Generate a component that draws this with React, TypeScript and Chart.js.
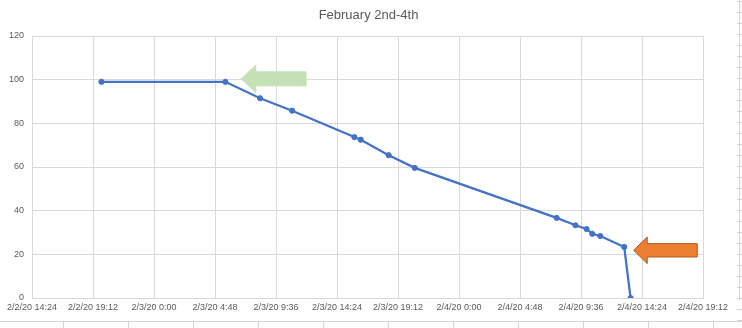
import React, { useEffect, useRef } from "react";
import { Chart, registerables } from "chart.js";

Chart.register(...registerables);

// ---- data ----
const TITLE = "February 2nd-4th";
const times = [
  "2/2/20 19:52",
  "2/3/20 5:37",
  "2/3/20 8:21",
  "2/3/20 10:52",
  "2/3/20 15:46",
  "2/3/20 16:16",
  "2/3/20 18:28",
  "2/3/20 20:31",
  "2/4/20 7:41",
  "2/4/20 9:10",
  "2/4/20 10:02",
  "2/4/20 10:29",
  "2/4/20 11:07",
  "2/4/20 13:00",
  "2/4/20 13:30",
];
const values = [99, 99, 91.5, 85.8, 73.7, 72.5, 65.4, 59.6, 36.7, 33.3, 31.6, 29.4, 28.4, 23.4, 0];
const xAxisStart = "2/2/20 14:24";
const xAxisEnd = "2/4/20 19:12";
const xAxisStepMinutes = 288; // 4:48
const yTicks = [0, 20, 40, 60, 80, 100, 120];

// annotation arrows anchored to data points (index into series)
const arrows = [
  { index: 1, dx: 15.7, dy: -3, head: 14.7, headHalf: 13.6, bodyHalf: 7, length: 65, fill: "#C5E0B4", stroke: "#C5E0B4" },
  { index: 13, dx: 9.4, dy: 3.4, head: 13.6, headHalf: 13.3, bodyHalf: 6.7, length: 63.6, fill: "#ED7D31", stroke: "#AE5A21" },
];

// minutes since 2/2/20 0:00
function toMinutes(s: string): number {
  const [date, time] = s.split(" ");
  const [, d] = date.split("/").map(Number);
  const [h, mm] = time.split(":").map(Number);
  return (d - 2) * 1440 + h * 60 + mm;
}
function fmt(v: number): string {
  const total = Math.round(v);
  const day = 2 + Math.floor(total / 1440);
  const rem = total % 1440;
  const h = Math.floor(rem / 60);
  const mm = rem % 60;
  return `2/${day}/20 ${h}:${mm < 10 ? "0" + mm : mm}`;
}

const FONT = "'Liberation Sans', Arial, sans-serif";
const GRID = "#D9D9D9";
const TEXT = "#595959";
const SHEET = "#D4D4D4";

const arrowPlugin = {
  id: "arrowsPlugin",
  afterDatasetsDraw(chart: any) {
    const meta = chart.getDatasetMeta(0);
    const ctx = chart.ctx;
    arrows.forEach((a) => {
      const pt = meta.data[a.index];
      if (!pt) return;
      const x = pt.x + a.dx;
      const y = pt.y + a.dy;
      ctx.save();
      ctx.beginPath();
      ctx.moveTo(x, y);
      ctx.lineTo(x + a.head, y - a.headHalf);
      ctx.lineTo(x + a.head, y - a.bodyHalf);
      ctx.lineTo(x + a.length, y - a.bodyHalf);
      ctx.lineTo(x + a.length, y + a.bodyHalf);
      ctx.lineTo(x + a.head, y + a.bodyHalf);
      ctx.lineTo(x + a.head, y + a.headHalf);
      ctx.closePath();
      ctx.fillStyle = a.fill;
      ctx.fill();
      ctx.lineWidth = 1;
      ctx.strokeStyle = a.stroke;
      ctx.stroke();
      ctx.restore();
    });
  },
};

export default function App() {
  const ref = useRef<HTMLCanvasElement | null>(null);

  useEffect(() => {
    document.body.style.margin = "0";
    const canvas = ref.current;
    if (!canvas) return;
    const xMin = toMinutes(xAxisStart);
    const xMax = toMinutes(xAxisEnd);
    const points = times.map((t, i) => ({ x: toMinutes(t), y: values[i] }));

    const chart = new Chart(canvas, {
      type: "line",
      data: {
        datasets: [
          {
            data: points,
            borderColor: "#4472C4",
            backgroundColor: "#4472C4",
            borderWidth: 2.25,
            pointRadius: 2.6,
            pointBackgroundColor: "#4472C4",
            pointBorderColor: "#4472C4",
            pointBorderWidth: 1,
            tension: 0,
            fill: false,
            yAxisID: "y",
          },
        ],
      },
      options: {
        animation: false,
        responsive: false,
        maintainAspectRatio: false,
        devicePixelRatio: 1,
        layout: { padding: { left: 0, right: 0, top: 0, bottom: 0 } },
        plugins: {
          legend: { display: false },
          tooltip: { enabled: false },
          title: {
            display: true,
            text: TITLE,
            color: TEXT,
            font: { family: FONT, size: 13, weight: "normal" },
            padding: { top: 7.9, bottom: 12.5 },
          },
        },
        scales: {
          x: {
            type: "linear",
            min: xMin,
            max: xMax,
            afterBuildTicks: (scale: any) => {
              const t = [];
              for (let v = xMin; v <= xMax; v += xAxisStepMinutes) t.push({ value: v });
              scale.ticks = t;
            },
            afterFit: (scale: any) => {
              scale.height = 23;
            },
            grid: { color: GRID, drawTicks: false, lineWidth: 1 },
            border: { display: true, color: GRID },
            ticks: {
              color: TEXT,
              font: { family: FONT, size: 9 },
              padding: 4,
              maxRotation: 0,
              autoSkip: false,
              callback: (v: any) => fmt(Number(v)),
            },
          },
          y: {
            type: "linear",
            position: "left",
            min: yTicks[0],
            max: yTicks[yTicks.length - 1],
            afterBuildTicks: (scale: any) => {
              scale.ticks = yTicks.map((v) => ({ value: v }));
            },
            afterFit: (scale: any) => {
              scale.width = 32;
            },
            grid: { color: GRID, drawTicks: false, lineWidth: 1 },
            border: { display: true, color: GRID },
            ticks: {
              color: TEXT,
              font: { family: FONT, size: 9 },
              padding: 8,
              callback: (v: any) => String(v),
            },
          },
          // invisible spacer on the right so the title stays centred on the whole chart box
          spacer: {
            type: "linear",
            position: "right",
            display: true,
            min: 0,
            max: 1,
            afterFit: (scale: any) => {
              scale.width = 34;
            },
            grid: { display: false, drawOnChartArea: false, drawTicks: false },
            border: { display: false },
            ticks: { display: false },
          },
        },
      },
      plugins: [arrowPlugin],
    } as any);
    return () => chart.destroy();
  }, []);

  const cols = [63, 128, 193, 258, 323, 388, 453, 518, 583, 648, 713];

  return (
    <div style={{ position: "fixed", left: 0, top: 0, width: 742, height: 328, overflow: "hidden", background: "#fff" }}>
      {/* worksheet cell lines around the chart box */}
      <div style={{ position: "absolute", left: 0, top: 321, width: 742, height: 1, background: SHEET }} />
      {cols.map((c) => (
        <div key={c} style={{ position: "absolute", left: c, top: 322, width: 1, height: 6, background: SHEET }} />
      ))}
      <div
        style={{
          position: "absolute",
          left: 737,
          top: 0,
          width: 5,
          height: 321,
          backgroundImage: `repeating-linear-gradient(to bottom, transparent 0px, transparent 1px, ${SHEET} 1px, ${SHEET} 2px, transparent 2px, transparent 11px)`,
        }}
      />
      <div style={{ position: "absolute", left: 739, top: 0, width: 1, height: 300, background: SHEET }} />
      <canvas ref={ref} width={737} height={321} style={{ position: "absolute", left: 0, top: 0, width: 737, height: 321, background: "#fff" }} />
    </div>
  );
}
